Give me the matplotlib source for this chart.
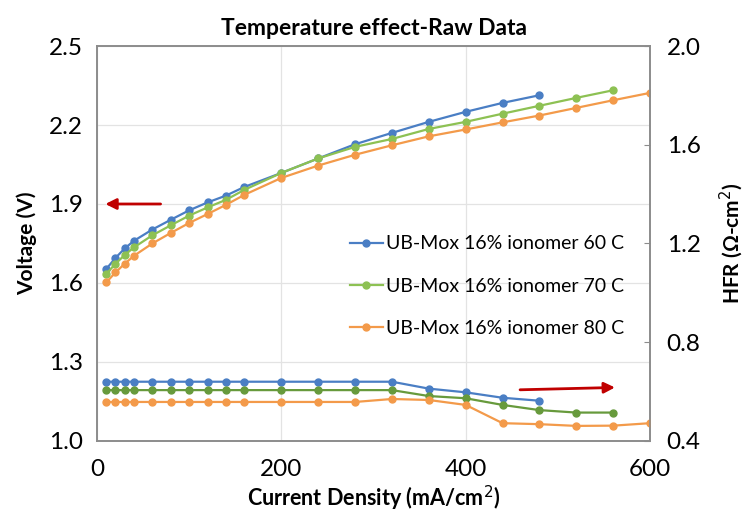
import matplotlib
matplotlib.use("Agg")
import matplotlib.pyplot as plt

plt.rcParams['font.family'] = ['Lato', 'DejaVu Sans']

# ---- data ----
cd_60 = [10, 20, 30, 40, 60, 80, 100, 120, 140, 160, 200, 240, 280, 320, 360, 400, 440, 480]
cd_70 = [10, 20, 30, 40, 60, 80, 100, 120, 140, 160, 200, 240, 280, 320, 360, 400, 440, 480, 520, 560]
cd_80 = [10, 20, 30, 40, 60, 80, 100, 120, 140, 160, 200, 240, 280, 320, 360, 400, 440, 480, 520, 560, 600]

v_60 = [1.653, 1.695, 1.731, 1.760, 1.803, 1.840, 1.876, 1.906, 1.932, 1.965, 2.018, 2.073, 2.127, 2.170, 2.212, 2.250, 2.284, 2.313]
v_70 = [1.634, 1.673, 1.706, 1.735, 1.781, 1.819, 1.856, 1.887, 1.916, 1.954, 2.018, 2.073, 2.117, 2.147, 2.185, 2.212, 2.243, 2.273, 2.303, 2.332]
v_80 = [1.602, 1.640, 1.673, 1.703, 1.750, 1.790, 1.828, 1.862, 1.897, 1.935, 1.999, 2.046, 2.087, 2.123, 2.157, 2.183, 2.210, 2.236, 2.265, 2.294, 2.322]

hfr_60 = [0.640] * 14 + [0.612, 0.597, 0.575, 0.563]
hfr_70 = [0.606] * 14 + [0.582, 0.573, 0.546, 0.525, 0.515, 0.515]
hfr_80 = [0.558] * 13 + [0.570, 0.566, 0.546, 0.472, 0.468, 0.461, 0.462, 0.472]

labels = ["UB-Mox 16% ionomer 60 C", "UB-Mox 16% ionomer 70 C", "UB-Mox 16% ionomer 80 C"]
x_ticks = [0, 200, 400, 600]
v_ticks = [1.0, 1.3, 1.6, 1.9, 2.2, 2.5]
h_ticks = [0.4, 0.8, 1.2, 1.6, 2.0]

blue = '#4A7EC4'
green = '#8DC153'
green_dark = '#679A3C'
orange = '#F39A4A'
grid_c = '#E3E3E3'
spine_c = '#8C8C8C'
arrow_c = '#C00000'

fig = plt.figure(figsize=(7.48, 5.2), dpi=100)
ax = fig.add_axes([0.1297, 0.152, 0.7393, 0.7595])
ax2 = ax.twinx()

mk = dict(marker='o', markersize=5, linewidth=1.6)
ax.plot(cd_60, v_60, color=blue, label=labels[0], **mk)
ax.plot(cd_70, v_70, color=green, label=labels[1], **mk)
ax.plot(cd_80, v_80, color=orange, label=labels[2], **mk)

ax2.plot(cd_60, hfr_60, color=blue, **mk)
ax2.plot(cd_70, hfr_70, color=green_dark, **mk)
ax2.plot(cd_80, hfr_80, color=orange, **mk)

ax.set_xlim(0, 600)
ax.set_ylim(1.0, 2.5)
ax2.set_ylim(0.4, 2.0)
ax.set_xticks(x_ticks)
ax.set_yticks(v_ticks)
ax2.set_yticks(h_ticks)
ax.set_yticklabels([f"{t:.1f}" for t in v_ticks])
ax2.set_yticklabels([f"{t:.1f}" for t in h_ticks])

ax.grid(True, color=grid_c, linewidth=0.9)
ax.set_axisbelow(True)

for a in (ax, ax2):
    for s in a.spines.values():
        s.set_color(spine_c)
        s.set_linewidth(1.2)

ax.tick_params(axis='both', length=0, labelsize=17.5, pad=10)
ax.tick_params(axis='x', pad=13)
ax2.tick_params(axis='y', direction='in', length=4, color=spine_c, labelsize=17.5, pad=12)

ax.set_title("Temperature effect-Raw Data", fontsize=16.5, fontweight='bold', pad=8)
ax.set_xlabel("Current Density (mA/cm$^2$)", fontsize=15.5, fontweight='bold', labelpad=3)
ax.set_ylabel("Voltage (V)", fontsize=15, fontweight='bold', labelpad=9)
ax2.set_ylabel("HFR (Ω-cm$^2$)", fontsize=15, fontweight='bold', labelpad=12)

leg = ax.legend(loc='upper left', bbox_to_anchor=(0.425, 0.565), frameon=False,
                fontsize=14, handlelength=1.7, handletextpad=0.2, labelspacing=1.3)

# arrows
ax.annotate('', xy=(6, 1.9), xytext=(72, 1.9),
            arrowprops=dict(arrowstyle='-|>', color=arrow_c, lw=2, mutation_scale=16))
ax2.annotate('', xy=(565, 0.617), xytext=(456, 0.607),
             arrowprops=dict(arrowstyle='-|>', color=arrow_c, lw=2, mutation_scale=16))

fig.savefig("out.png", dpi=100)
